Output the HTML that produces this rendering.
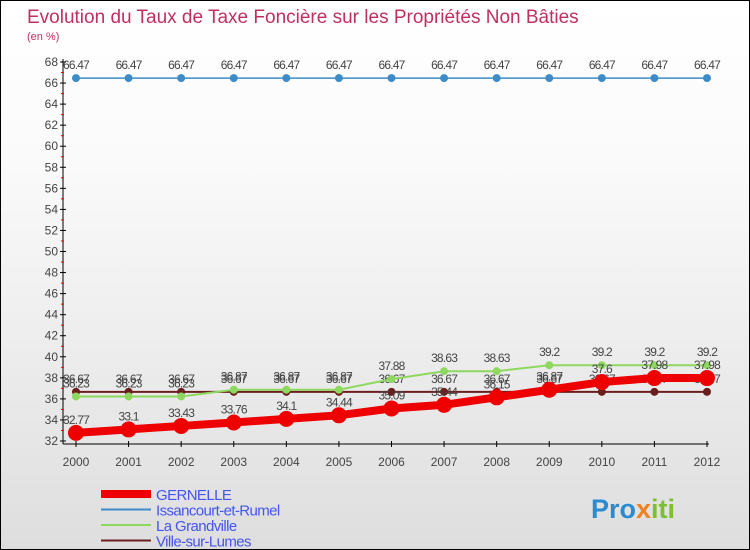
<!DOCTYPE html>
<html><head><meta charset="utf-8"><style>
body{margin:0;}
#c{width:750px;height:550px;position:relative;box-sizing:border-box;border:1px solid #000;background:linear-gradient(#fff,#fafafa 30%,#dedede);font-family:"Liberation Sans",sans-serif;overflow:hidden}
</style></head><body>
<div id="c">
<svg id="s" width="750" height="550" style="position:absolute;left:0;top:0">
<text x="26" y="22" font-size="19" fill="#c0305f">Evolution du Taux de Taxe Foncière sur les Propriétés Non Bâties</text>
<text x="26" y="39" font-size="11" fill="#c0305f">(en %)</text>
<g id="axes"></g><g id="plot"></g>
<text x="590" y="517" font-size="27" font-weight="bold" fill="#2a8bd0">Pro<tspan fill="#f08020">x</tspan><tspan fill="#7cc030">iti</tspan></text>
</svg>
</div>
<script>
const years=[2000,2001,2002,2003,2004,2005,2006,2007,2008,2009,2010,2011,2012];
const yTicks=[32,34,36,38,40,42,44,46,48,50,52,54,56,58,60,62,64,66,68];
const gernelle=[32.77,33.1,33.43,33.76,34.1,34.44,35.09,35.44,36.15,36.87,37.6,37.98,37.98];
const issancourt=[66.47,66.47,66.47,66.47,66.47,66.47,66.47,66.47,66.47,66.47,66.47,66.47,66.47];
const grandville=[36.23,36.23,36.23,36.87,36.87,36.87,37.88,38.63,38.63,39.2,39.2,39.2,39.2];
const ville=[36.67,36.67,36.67,36.67,36.67,36.67,36.67,36.67,36.67,36.67,36.67,36.67,36.67];
const seriesNames=["GERNELLE","Issancourt-et-Rumel","La Grandville","Ville-sur-Lumes"];
const NS="http://www.w3.org/2000/svg";
const X=i=>75+i*(706-75)/(years.length-1);
const Y=v=>440-(v-32)*(440-61)/36;
function mk(p,t,a){const e=document.createElementNS(NS,t);for(const k in a)e.setAttribute(k,a[k]);p.appendChild(e);return e;}
const ax=document.getElementById('axes'),pl=document.getElementById('plot');
mk(ax,'line',{x1:62,y1:58,x2:62,y2:443,stroke:'#000'});
mk(ax,'line',{x1:62,y1:443,x2:708,y2:443,stroke:'#000'});
yTicks.forEach(t=>{const y=Y(t);
mk(ax,'line',{x1:59,y1:y,x2:65,y2:y,stroke:'#000'});
if(t<68)mk(ax,'line',{x1:60,y1:Y(t+1),x2:63,y2:Y(t+1),stroke:'#e00'});
const tx=mk(ax,'text',{x:57,y:y+4,'font-size':12,fill:'#444','text-anchor':'end'});tx.textContent=t;

});
years.forEach((yr,i)=>{const x=X(i);
mk(ax,'line',{x1:x,y1:440,x2:x,y2:446,stroke:'#000'});
const tx=mk(ax,'text',{x:x,y:465,'font-size':12,fill:'#444','text-anchor':'middle'});tx.textContent=yr;

});
function series(data,color,lw,r,name){
const g=mk(pl,'g',{});


mk(g,'polyline',{points:data.map((v,i)=>X(i)+','+Y(v)).join(' '),fill:'none',stroke:color,'stroke-width':lw});
data.forEach((v,i)=>{const c=mk(g,'circle',{cx:X(i),cy:Y(v),r:r,fill:color});


const t=mk(g,'text',{x:X(i),y:Y(v)-9,'font-size':12,fill:'#444','text-anchor':'middle','letter-spacing':'-0.8'});t.textContent=v;

});}
series(ville,'#6b1e1e',2,4,'series-ville-sur-lumes');
series(grandville,'#8ed860',2,4,'series-la-grandville');
series(issancourt,'#3d8cc8',1.5,4,'series-issancourt');
series(gernelle,'#ee0000',8,8,'series-gernelle');
const colors=['#ee0000','#3d8cc8','#8ed860','#6b1e1e'],widths=[8,2,2,2];
seriesNames.forEach((n,i)=>{const y=493+i*15.5;
const g=mk(pl,'g',{});


mk(g,'line',{x1:100,y1:y,x2:150,y2:y,stroke:colors[i],'stroke-width':widths[i]});
const t=mk(g,'text',{x:155,y:y+6,'font-size':15,fill:'#4455ee','letter-spacing':'-0.6'});t.textContent=n;});
</script>
</body></html>
